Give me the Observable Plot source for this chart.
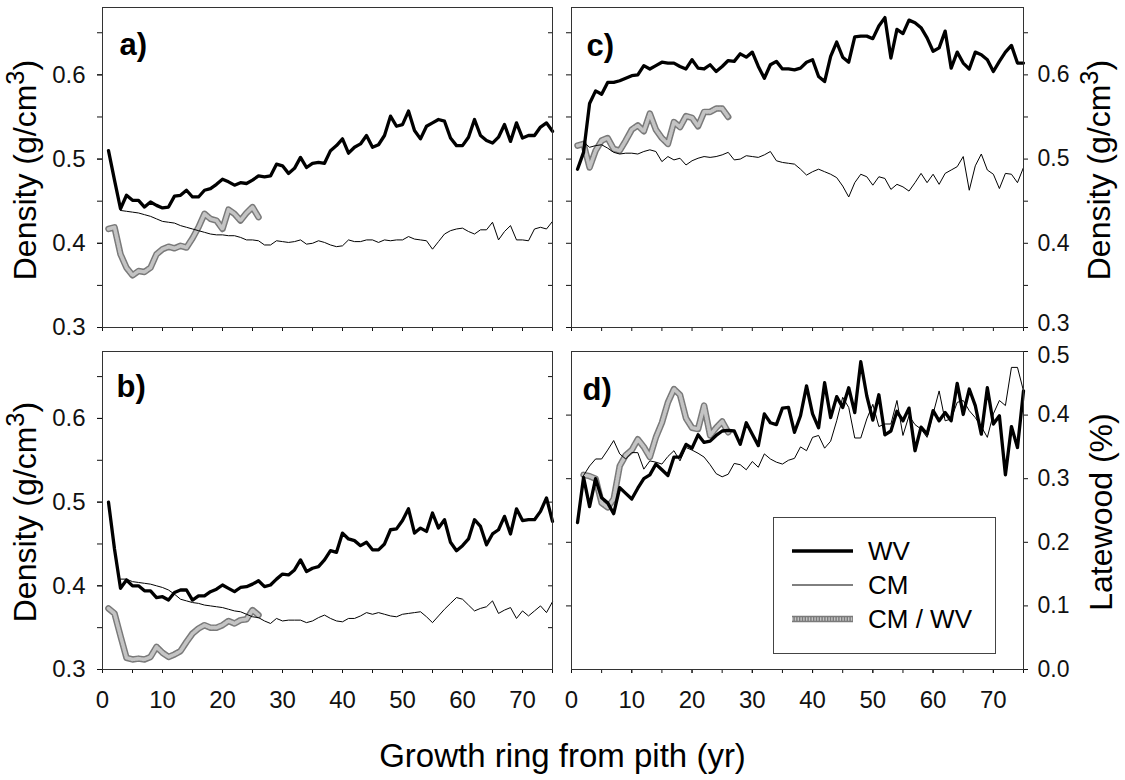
<!DOCTYPE html>
<html><head><meta charset="utf-8">
<script src="https://cdn.jsdelivr.net/npm/d3@7"></script>
<script src="https://cdn.jsdelivr.net/npm/@observablehq/plot@0.6"></script>
<style>
body{margin:0;background:#fff;}
#wrap{position:relative;width:1125px;height:780px;overflow:hidden;font-family:"Liberation Sans",Arial,sans-serif;color:#000;}
.panel{position:absolute;}
.ytitle{position:absolute;font-size:32px;white-space:nowrap;transform:translate(-50%,-50%) rotate(-90deg);line-height:1;}
.ytitle sup{font-size:0.8em;vertical-align:0.45em;line-height:0;}
#xtitle{position:absolute;left:0;width:1125px;top:739px;text-align:center;font-size:33px;line-height:1;}
</style></head><body>
<div id="wrap"></div>
<script>
// ---------- data ----------
const xMajor = [0,10,20,30,40,50,60,70];
const xMinor = [0,5,10,15,20,25,30,35,40,45,50,55,60,65,70,75];
const yMajor = [0.3,0.4,0.5,0.6];
const yMinor = [0.3,0.35,0.4,0.45,0.5,0.55,0.6,0.65];
const lwLabels = [0,0.1,0.2,0.3,0.4,0.5];
const lwTicks = [0.1,0.2,0.3,0.4];
const seriesNames = ["WV","CM","CM / WV"];
const panelLabels = ["a)","b)","c)","d)"];

// panel a (density) — WV from ring 1, CM from ring 3, CM/WV from ring 1
const aWV = [0.510,0.475,0.441,0.457,0.451,0.451,0.443,0.449,0.445,0.442,
 0.443,0.456,0.457,0.463,0.455,0.455,0.463,0.465,0.470,0.476,
 0.473,0.469,0.472,0.471,0.475,0.480,0.479,0.480,0.494,0.492,
 0.483,0.489,0.502,0.490,0.495,0.496,0.495,0.510,0.516,0.524,
 0.507,0.514,0.518,0.528,0.514,0.517,0.528,0.551,0.539,0.541,
 0.557,0.534,0.524,0.539,0.543,0.547,0.545,0.525,0.516,0.516,
 0.526,0.547,0.528,0.522,0.519,0.526,0.541,0.521,0.543,0.525,
 0.528,0.528,0.538,0.543,0.533];
const aCMStart = 3;
const aCM = [0.439,0.438,0.437,0.436,0.434,0.432,0.429,0.426,0.425,0.424,
 0.421,0.419,0.417,0.415,0.413,0.411,0.410,0.410,0.409,0.409,
 0.407,0.404,0.404,0.403,0.398,0.398,0.403,0.402,0.401,0.402,
 0.404,0.399,0.400,0.403,0.401,0.398,0.396,0.397,0.404,0.402,
 0.402,0.404,0.404,0.401,0.404,0.403,0.404,0.404,0.408,0.405,
 0.404,0.403,0.393,0.402,0.411,0.415,0.417,0.418,0.414,0.411,
 0.416,0.416,0.425,0.404,0.414,0.421,0.404,0.404,0.403,0.417,
 0.419,0.417,0.426];
const aRatio = [0.417,0.419,0.387,0.371,0.362,0.367,0.366,0.371,0.387,0.393,0.396,0.394,0.397,
 0.395,0.406,0.419,0.435,0.429,0.427,0.417,0.440,0.435,0.427,0.436,0.443,0.431];

// panel b (density)
const bWV = [0.500,0.444,0.397,0.407,0.400,0.400,0.394,0.394,0.386,0.387,
 0.383,0.392,0.395,0.395,0.383,0.388,0.388,0.393,0.396,0.401,
 0.397,0.393,0.398,0.399,0.402,0.406,0.399,0.401,0.408,0.414,
 0.413,0.419,0.431,0.417,0.421,0.423,0.431,0.442,0.440,0.463,
 0.456,0.454,0.448,0.452,0.443,0.443,0.450,0.467,0.468,0.478,
 0.492,0.463,0.469,0.465,0.487,0.469,0.479,0.452,0.442,0.448,
 0.456,0.479,0.471,0.449,0.462,0.467,0.483,0.462,0.492,0.478,
 0.479,0.479,0.489,0.505,0.477];
const bCMStart = 3;
const bCM = [0.408,0.408,0.405,0.404,0.403,0.402,0.400,0.398,0.395,0.390,
 0.384,0.382,0.380,0.379,0.377,0.376,0.375,0.374,0.372,0.370,
 0.369,0.366,0.363,0.362,0.358,0.355,0.361,0.358,0.359,0.359,
 0.359,0.356,0.358,0.362,0.365,0.361,0.358,0.357,0.361,0.361,
 0.364,0.368,0.366,0.368,0.366,0.364,0.363,0.366,0.367,0.368,
 0.369,0.363,0.356,0.364,0.372,0.379,0.386,0.384,0.377,0.370,
 0.373,0.375,0.382,0.367,0.371,0.374,0.361,0.370,0.364,0.370,
 0.376,0.368,0.381];
const bRatio = [0.373,0.367,0.340,0.314,0.312,0.313,0.312,0.315,0.327,0.320,0.315,0.318,0.322,
 0.333,0.343,0.349,0.353,0.350,0.350,0.353,0.358,0.355,0.359,0.360,0.371,0.365];

// panel c (density)
const cWV = [0.488,0.508,0.566,0.581,0.577,0.591,0.591,0.593,0.596,0.599,
 0.600,0.611,0.607,0.611,0.615,0.614,0.614,0.610,0.607,0.618,
 0.608,0.607,0.612,0.604,0.610,0.617,0.616,0.625,0.621,0.627,
 0.610,0.596,0.612,0.616,0.607,0.607,0.606,0.608,0.615,0.618,
 0.598,0.592,0.622,0.639,0.621,0.615,0.645,0.646,0.646,0.643,
 0.658,0.668,0.620,0.654,0.649,0.665,0.662,0.656,0.644,0.628,
 0.632,0.652,0.608,0.627,0.614,0.607,0.627,0.624,0.618,0.604,
 0.616,0.627,0.635,0.614,0.614];
const cCMStart = 2;
const cCM = [0.520,0.514,0.516,0.517,0.513,0.508,0.506,0.507,0.507,0.506,
 0.509,0.511,0.509,0.497,0.503,0.499,0.501,0.493,0.498,0.501,
 0.503,0.502,0.503,0.505,0.508,0.499,0.500,0.504,0.503,0.502,
 0.505,0.509,0.498,0.496,0.495,0.494,0.488,0.481,0.485,0.488,
 0.485,0.482,0.478,0.468,0.455,0.472,0.482,0.479,0.469,0.479,
 0.477,0.464,0.470,0.467,0.462,0.472,0.483,0.472,0.482,0.470,
 0.483,0.487,0.491,0.503,0.463,0.492,0.506,0.487,0.482,0.465,
 0.483,0.482,0.472,0.490];
const cRatio = [0.516,0.518,0.490,0.510,0.522,0.525,0.512,0.510,0.522,0.535,0.540,0.533,0.554,
 0.535,0.525,0.518,0.544,0.538,0.551,0.549,0.539,0.556,0.556,0.560,0.560,0.550];

// panel d (latewood fraction)
const dWV = [0.231,0.302,0.256,0.300,0.270,0.262,0.245,0.286,0.277,0.268,
 0.285,0.300,0.306,0.323,0.314,0.305,0.334,0.334,0.354,0.348,
 0.369,0.357,0.359,0.368,0.375,0.376,0.375,0.354,0.388,0.370,
 0.352,0.402,0.388,0.385,0.411,0.412,0.373,0.399,0.446,0.402,
 0.380,0.451,0.396,0.429,0.412,0.443,0.404,0.484,0.430,0.392,
 0.432,0.369,0.375,0.406,0.391,0.411,0.344,0.381,0.370,0.407,
 0.391,0.404,0.391,0.450,0.401,0.441,0.415,0.370,0.443,0.386,
 0.399,0.306,0.382,0.349,0.438];
const dCMStart = 2;
const dCM = [0.305,0.320,0.331,0.331,0.345,0.360,0.339,0.331,0.341,0.341,
 0.315,0.328,0.326,0.323,0.335,0.344,0.328,0.349,0.345,0.340,
 0.334,0.322,0.308,0.303,0.307,0.324,0.322,0.314,0.327,0.318,
 0.339,0.331,0.326,0.323,0.329,0.332,0.350,0.344,0.365,0.368,
 0.348,0.359,0.391,0.428,0.412,0.364,0.364,0.394,0.417,0.382,
 0.386,0.386,0.423,0.368,0.399,0.385,0.378,0.365,0.402,0.438,
 0.391,0.394,0.420,0.423,0.407,0.396,0.382,0.365,0.402,0.423,
 0.415,0.475,0.475,0.438];
const dRatioStart = 2;
const dRatio = [0.306,0.304,0.300,0.262,0.255,0.268,0.320,0.337,0.345,0.362,
 0.350,0.334,0.365,0.388,0.420,0.441,0.432,0.395,0.380,0.378,
 0.415,0.368,0.380,0.390,0.373];

// ---------- helpers ----------
const rows = (values, start = 1) => values.map((v, i) => ({ring: start + i, v}));
const FONT = "'Liberation Sans', Arial, Helvetica, sans-serif";
const fmt1 = d3.format(".1f");
const blank = () => "";
const INK = "#111";
const GRAY_OUT = "#7a7a7a", GRAY_IN = "#c4c4c4";

function seriesMarks(wv, cm, ratio) {
  return [
    Plot.line(ratio, {x: "ring", y: "v", stroke: GRAY_OUT, strokeWidth: 6.5, strokeLinejoin: "round", strokeLinecap: "round"}),
    Plot.line(ratio, {x: "ring", y: "v", stroke: GRAY_IN, strokeWidth: 3.6, strokeDasharray: "1.4 1.4", strokeLinejoin: "round"}),
    Plot.line(cm, {x: "ring", y: "v", stroke: "#000", strokeWidth: 1}),
    Plot.line(wv, {x: "ring", y: "v", stroke: "#000", strokeWidth: 3.3, strokeLinejoin: "round"})
  ];
}

function labelMark(txt, dx, dy) {
  return Plot.text([txt], {text: d => d, frameAnchor: "top-left", lineAnchor: "top", textAnchor: "start",
    dx, dy, fontSize: 31, fontWeight: "bold", fill: "#000"});
}

function makePanel(cfg) {
  return Plot.plot({
    width: cfg.width, height: cfg.height,
    marginTop: cfg.mt, marginBottom: cfg.mb, marginLeft: cfg.ml, marginRight: cfg.mr,
    x: {domain: [0, 75], label: null},
    y: {domain: cfg.yDomain, label: null},
    style: {fontFamily: FONT, fontSize: "24px", color: INK, background: "transparent", overflow: "visible"},
    marks: [
      ...cfg.axes,
      ...seriesMarks(cfg.wv, cfg.cm, cfg.ratio),
      Plot.frame({stroke: "#333", strokeWidth: 1}),
      labelMark(cfg.label, cfg.ldx, cfg.ldy)
    ]
  });
}

const xAxesTop = [Plot.axisX({ticks: xMinor, tickSize: 4, tickFormat: blank})];
const xAxesBottom = [
  Plot.axisX({ticks: xMinor, tickSize: 4, tickFormat: blank}),
  Plot.axisX({ticks: xMajor, tickSize: 4, tickPadding: 17, tickFormat: d => String(d), fontSize: 24})
];
const leftDensity = [
  Plot.axisY({ticks: yMinor, tickSize: 5, tickFormat: blank}),
  Plot.axisY({ticks: yMajor, tickSize: 5, tickPadding: 12, tickFormat: fmt1, fontSize: 24}),
  Plot.axisY({anchor: "right", ticks: yMinor, tickSize: 5, dx: -5, tickFormat: blank})
];
// right-hand density labels: the bottom label (0.3) sits a little higher, clear of panel d's top label
const rightDensity = [
  Plot.axisY({anchor: "left", ticks: yMinor, tickSize: 5, tickFormat: blank}),
  Plot.axisY({anchor: "right", ticks: yMinor, tickSize: 4, tickFormat: blank}),
  Plot.axisY({anchor: "right", ticks: yMajor.slice(1), tickSize: 0, tickPadding: 14, tickFormat: fmt1, fontSize: 23}),
  Plot.axisY({anchor: "right", ticks: yMajor.slice(0, 1), tickSize: 0, tickPadding: 14, dy: -4, tickFormat: fmt1, fontSize: 23})
];
const rightLatewood = [
  Plot.axisY({anchor: "left", ticks: lwTicks, tickSize: 5, tickFormat: blank}),
  Plot.axisY({anchor: "right", ticks: lwLabels, tickSize: 4, tickFormat: blank}),
  Plot.axisY({anchor: "right", ticks: lwLabels.slice(0, -1), tickSize: 0, tickPadding: 14, tickFormat: fmt1, fontSize: 23}),
  Plot.axisY({anchor: "right", ticks: lwLabels.slice(-1), tickSize: 0, tickPadding: 14, dy: 4, tickFormat: fmt1, fontSize: 23})
];

const wrap = document.getElementById("wrap");
function place(node, left, top) {
  node.classList.add("panel");
  node.style.left = left + "px";
  node.style.top = top + "px";
  wrap.appendChild(node);
}

place(makePanel({width: 565, height: 340, mt: 7, mb: 13, ml: 102, mr: 13, yDomain: [0.3, 0.68],
  axes: [...xAxesTop, ...leftDensity], wv: rows(aWV), cm: rows(aCM, aCMStart), ratio: rows(aRatio),
  label: panelLabels[0], ldx: 17, ldy: 25}), 0, 0);
place(makePanel({width: 565, height: 380, mt: 11, mb: 51, ml: 102, mr: 13, yDomain: [0.3, 0.68],
  axes: [...xAxesBottom, ...leftDensity], wv: rows(bWV), cm: rows(bCM, bCMStart), ratio: rows(bRatio),
  label: panelLabels[1], ldx: 14, ldy: 23}), 0, 340);
place(makePanel({width: 565, height: 340, mt: 7, mb: 13, ml: 11, mr: 102, yDomain: [0.3, 0.68],
  axes: [...xAxesTop, ...rightDensity], wv: rows(cWV), cm: rows(cCM, cCMStart), ratio: rows(cRatio),
  label: panelLabels[2], ldx: 15, ldy: 26}), 560, 0);
place(makePanel({width: 565, height: 380, mt: 11, mb: 51, ml: 11, mr: 102, yDomain: [0, 0.5],
  axes: [...xAxesBottom, ...rightLatewood], wv: rows(dWV), cm: rows(dCM, dCMStart), ratio: rows(dRatio, dRatioStart),
  label: panelLabels[3], ldx: 11, ldy: 26}), 560, 340);

// axis titles
function addTitle(html, x, y) {
  const d = document.createElement("div");
  d.className = "ytitle";
  d.innerHTML = html;
  d.style.left = x + "px";
  d.style.top = y + "px";
  wrap.appendChild(d);
}
addTitle("Density (g/cm<sup>3</sup>)", 25, 170);
addTitle("Density (g/cm<sup>3</sup>)", 25, 512);
addTitle("Density (g/cm<sup>3</sup>)", 1099, 170);
addTitle("Latewood (%)", 1101, 512);
const xt = document.createElement("div");
xt.id = "xtitle";
xt.textContent = "Growth ring from pith (yr)";
wrap.appendChild(xt);

// legend
const ns = "http://www.w3.org/2000/svg";
const lg = document.createElementNS(ns, "svg");
lg.setAttribute("width", 223);
lg.setAttribute("height", 137);
lg.style.position = "absolute";
lg.style.left = "773px";
lg.style.top = "517px";
const legendStyles = [
  [{stroke: "#000", w: 3.3}],
  [{stroke: "#000", w: 1}],
  [{stroke: GRAY_OUT, w: 6.5}, {stroke: GRAY_IN, w: 3.6, dash: "1.4 1.4"}]
];
let html = `<rect x="0.5" y="0.5" width="222" height="136" fill="#fff" stroke="#444" stroke-width="1"/>`;
seriesNames.forEach((name, i) => {
  const ly = 34 + i * 34;
  legendStyles[i].forEach(s => {
    html += `<line x1="19" x2="80" y1="${ly}" y2="${ly}" stroke="${s.stroke}" stroke-width="${s.w}"${s.dash ? ` stroke-dasharray="${s.dash}"` : ""}/>`;
  });
  html += `<text x="95" y="${ly + 9}" font-family="Liberation Sans, Arial, sans-serif" font-size="26" fill="#000">${name}</text>`;
});
lg.innerHTML = html;
wrap.appendChild(lg);
</script>
</body></html>
